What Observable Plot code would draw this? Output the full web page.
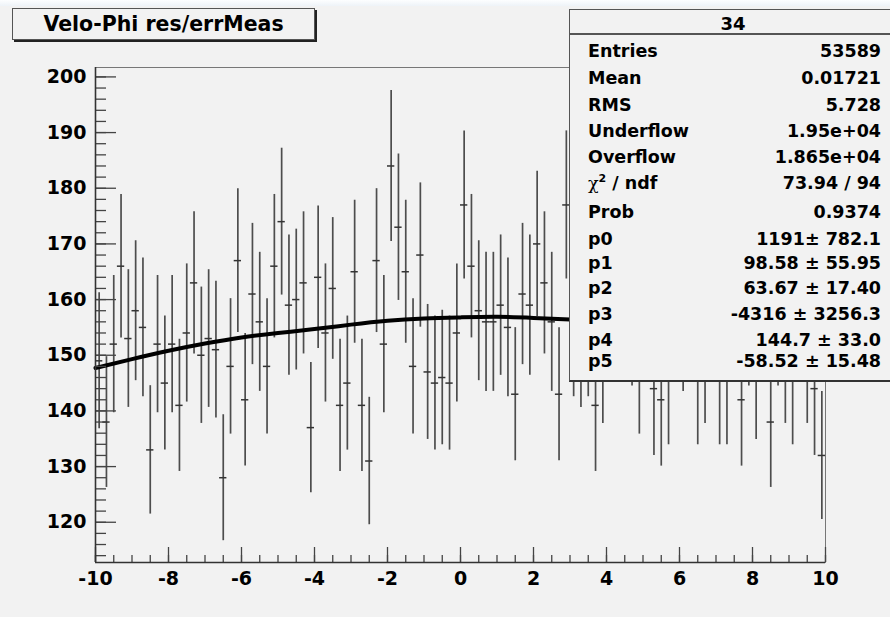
<!DOCTYPE html>
<html>
<head>
<meta charset="utf-8">
<script src="https://cdn.jsdelivr.net/npm/d3@7"></script>
<script src="https://cdn.jsdelivr.net/npm/@observablehq/plot@0.6"></script>
<style>
  html, body { margin: 0; padding: 0; background: #f2f2f2; }
  #wrap { position: relative; width: 890px; height: 617px; overflow: hidden;
          font-family: 'DejaVu Sans', sans-serif; font-weight: bold; color: #000; background: #f2f2f2; }
  #wrap svg { position: absolute; left: 0; top: 0; }
  #topstrip { position: absolute; left: 0; top: 0; width: 890px; height: 6px;
              background: linear-gradient(#fdfeff, #eef3f8); }
  #title { position: absolute; left: 12px; top: 8px; width: 301px; height: 30px;
           border: 1px solid #555; box-shadow: 2px 2px 0 #222; background: #f2f2f2;
           font-size: 20.5px; line-height: 31px; text-align: center; white-space: nowrap; }
  #stats { position: absolute; left: 569px; top: 9px; width: 330px; height: 370px;
           border: 1px solid #555; border-bottom: 2px solid #333; background: #f2f2f2; font-size: 17.5px; }
  #stats .hdr { position: absolute; left: 0; width: 326px; top: 3px; height: 22px; line-height: 22px; text-align: center; font-size: 18px; }
  #stats .sep { position: absolute; left: 0; width: 330px; top: 23px; height: 2px; background: #555; }
  #stats .row { position: absolute; left: 18px; width: 293px; height: 18px; line-height: 18px;
                display: flex; justify-content: space-between; white-space: nowrap; }
  #stats .chi { font-family: 'DejaVu Serif', serif; font-weight: normal; font-style: normal; }
  #stats sup { font-size: 11px; line-height: 0; vertical-align: 7px; }
</style>
</head>
<body>
<div id="wrap">
  <div id="topstrip"></div>
</div>
<script>
// ---- Histogram definition ----
const xMin = -10, xMax = 10, nBins = 100;
// bin contents (bins hidden behind the stats box are estimated)
const counts = [
  149, 138, 152, 166, 153, 158, 155, 133, 152, 145,
  152, 141, 154, 163, 150, 153, 151, 128, 148, 167,
  142, 161, 156, 148, 166, 174, 159, 160, 163, 137,
  164, 154, 162, 141, 145, 165, 141, 131, 167, 152,
  184, 173, 165, 148, 168, 147, 145, 146, 145, 154,
  177, 166, 158, 156, 156, 159, 155, 143, 161, 159,
  170, 163, 156, 143, 177, 155, 153, 155, 141, 150,
  162, 165, 160, 157, 148, 168, 144, 142, 146, 161,
  156, 163, 146, 150, 159, 146, 146, 164, 142, 157,
  147, 160, 138, 157, 150, 146, 166, 150, 144, 132
];

// ---- Fit curve ----
const fitX = [-10, -9, -8, -7, -6, -5, -4, -3, -2, -1, 0, 1, 2, 3, 4, 5, 6, 7, 8, 9, 10];
const fitY = [147.7, 149.3, 150.8, 152.1, 153.2, 154.0, 154.7, 155.5, 156.2, 156.6, 156.8, 156.9, 156.7, 156.4, 156.0, 155.3, 154.4, 153.3, 152.0, 150.5, 148.8];

// ---- Axes ----
const xTicks = [-10, -8, -6, -4, -2, 0, 2, 4, 6, 8, 10];
const xMinorTicks = [-10, -9.5, -9, -8.5, -8, -7.5, -7, -6.5, -6, -5.5, -5, -4.5, -4, -3.5, -3, -2.5, -2, -1.5, -1, -0.5, 0, 0.5, 1, 1.5, 2, 2.5, 3, 3.5, 4, 4.5, 5, 5.5, 6, 6.5, 7, 7.5, 8, 8.5, 9, 9.5, 10];
const yTicks = [120, 130, 140, 150, 160, 170, 180, 190, 200];
const yMinorTicks = [114, 116, 118, 120, 122, 124, 126, 128, 130, 132, 134, 136, 138, 140, 142, 144, 146, 148, 150, 152, 154, 156, 158, 160, 162, 164, 166, 168, 170, 172, 174, 176, 178, 180, 182, 184, 186, 188, 190, 192, 194, 196, 198, 200];
const yDomain = [112.77, 201.69];

// ---- Text ----
const titleText = "Velo-Phi res/errMeas";
const statsHeader = "34";
const statLabels = ["Entries", "Mean", "RMS", "Underflow", "Overflow", "CHI", "Prob", "p0", "p1", "p2", "p3", "p4", "p5"];
const statValues = ["53589", "0.01721", "5.728", "1.95e+04", "1.865e+04", "73.94 / 94", "0.9374",
  "1191\u00b1 782.1", "98.58 \u00b1 55.95", "63.67 \u00b1 17.40", "-4316 \u00b1 3256.3", "144.7 \u00b1 33.0", "-58.52 \u00b1 15.48"];
const statRowY = [50.7, 77.7, 104.5, 131, 156.7, 183, 211.5, 238.5, 263, 288, 314, 339.5, 361];

// ---- Build data tables ----
const bw = (xMax - xMin) / nBins;
const bins = counts.map((n, i) => ({
  x0: xMin + i * bw, x1: xMin + (i + 1) * bw, xc: xMin + (i + 0.5) * bw,
  n, err: Math.sqrt(n)   // Poisson error, as ROOT draws it
}));
const fit = fitX.map((x, i) => ({x, y: fitY[i]}));

const axisFont = {fontSize: 19, fontWeight: "bold", fontFamily: "'DejaVu Sans', sans-serif"};

const chart = Plot.plot({
  width: 890, height: 617,
  marginLeft: 95, marginRight: 65, marginTop: 67, marginBottom: 55,
  style: {background: "transparent", fontFamily: "'DejaVu Sans', sans-serif", fontWeight: "bold", fontSize: "19px", color: "#000", overflow: "visible"},
  x: {domain: [xMin, xMax]},
  y: {domain: yDomain},
  marks: [
    Plot.frame({stroke: "#777", strokeWidth: 1}),
    Plot.ruleX(bins, {x: "xc", y1: d => d.n - d.err, y2: d => d.n + d.err, stroke: "#4d4d4d", strokeWidth: 1.7}),
    Plot.ruleY(bins, {y: "n", x1: "x0", x2: "x1", stroke: "#333", strokeWidth: 1.5}),
    Plot.line(fit, {x: "x", y: "y", curve: "natural", stroke: "#000", strokeWidth: 4}),
    Plot.axisX({ticks: xMinorTicks, tickSize: -7, text: null, stroke: "#444", strokeWidth: 1.3, label: null}),
    Plot.axisX({ticks: xTicks, tickSize: -15, text: null, stroke: "#444", strokeWidth: 1.3, label: null}),
    Plot.axisX({ticks: xTicks, tickSize: 0, tickPadding: 9, label: null, tickFormat: d => String(d), ...axisFont}),
    Plot.axisY({ticks: yMinorTicks, tickSize: -11, text: null, stroke: "#444", strokeWidth: 1.3, label: null}),
    Plot.axisY({ticks: yTicks, tickSize: -21, text: null, stroke: "#444", strokeWidth: 1.3, label: null}),
    Plot.axisY({ticks: yTicks, tickSize: 0, tickPadding: 9, label: null, tickFormat: d => String(d), ...axisFont}),
    Plot.ruleY([yDomain[0]], {stroke: "#333", strokeWidth: 1.6}),
    Plot.ruleX([xMin], {stroke: "#333", strokeWidth: 1.6})
  ]
});

const wrap = document.getElementById("wrap");
wrap.appendChild(chart);

// Title box
const t = document.createElement("div");
t.id = "title";
t.textContent = titleText;
wrap.appendChild(t);

// Stats box
const s = document.createElement("div");
s.id = "stats";
const hdr = document.createElement("div");
hdr.className = "hdr";
hdr.textContent = statsHeader;
s.appendChild(hdr);
const sep = document.createElement("div");
sep.className = "sep";
s.appendChild(sep);
statLabels.forEach((lab, i) => {
  const r = document.createElement("div");
  r.className = "row";
  r.style.top = (statRowY[i] - 10 - 9) + "px";
  const a = document.createElement("span");
  if (lab === "CHI") {
    a.innerHTML = '<span class="chi">\u03c7</span><sup>2</sup> / ndf';
  } else {
    a.textContent = lab;
  }
  const b = document.createElement("span");
  b.textContent = statValues[i];
  r.appendChild(a); r.appendChild(b);
  s.appendChild(r);
});
wrap.appendChild(s);
</script>
</body>
</html>
